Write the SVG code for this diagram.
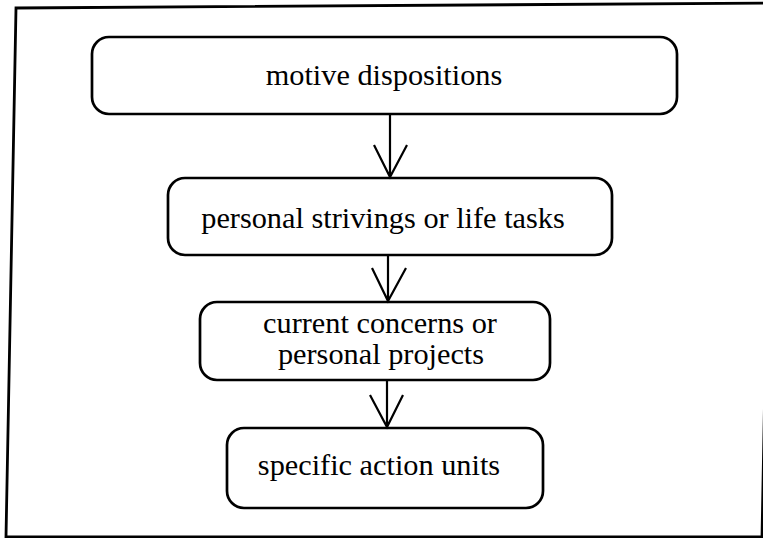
<svg xmlns="http://www.w3.org/2000/svg" width="763" height="538" viewBox="0 0 763 538">
<style>
.box{fill:#fff;stroke:#000;stroke-width:2.7}
.t{font-family:"Liberation Serif","Times New Roman",serif;font-size:30.3px;fill:#000;text-anchor:middle}
.c{stroke:#000;stroke-width:2.2;fill:none}
</style>
<rect width="763" height="538" fill="#fff"/>
<path d="M16,8 L772,3 L762,537 L6,537 Z" fill="none" stroke="#000" stroke-width="2.8"/>
<g id="n1"><rect class="box" x="92" y="37" width="585" height="77" rx="17"/><text class="t" x="384" y="85">motive dispositions</text></g>
<g id="n2"><rect class="box" x="168" y="178" width="444" height="77" rx="17"/><text class="t" x="383" y="228">personal strivings or life tasks</text></g>
<g id="n3"><rect class="box" x="200" y="302" width="350" height="78" rx="17"/><text class="t" x="380" y="333">current concerns or</text><text class="t" x="381" y="364">personal projects</text></g>
<g id="n4"><rect class="box" x="227" y="428" width="316" height="80" rx="17"/><text class="t" x="379" y="475">specific action units</text></g>
<g id="connectors">
<path class="c" d="M390,114 V177 M374,145 L390,177 L407,145"/>
<path class="c" d="M388,255 V301 M372,268 L388,301 L406,268"/>
<path class="c" d="M387,380 V427 M370,395 L387,427 L403,395"/>
</g>
</svg>
